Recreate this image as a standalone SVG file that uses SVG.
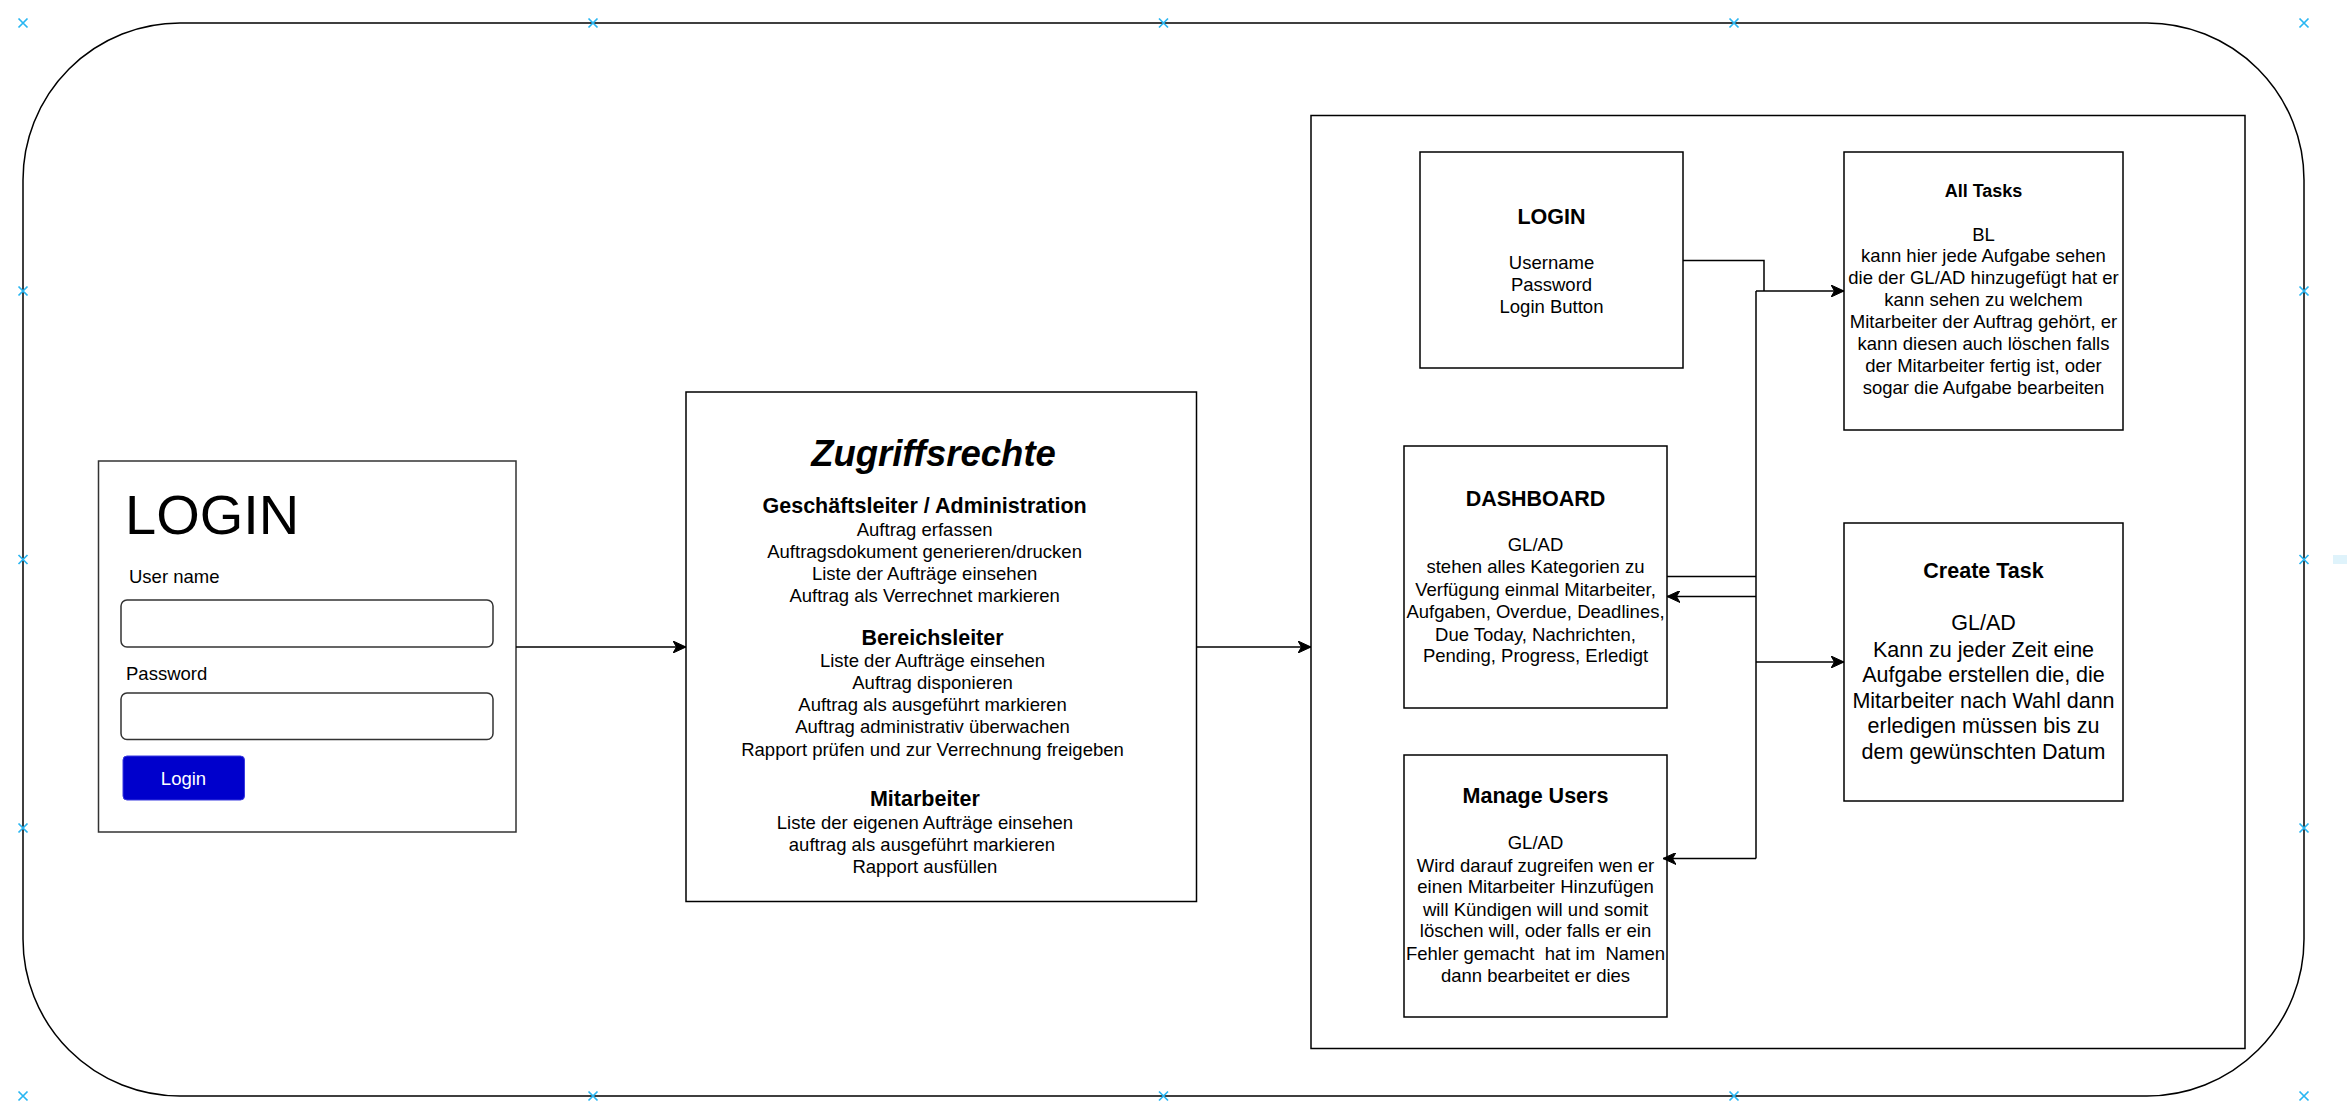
<svg xmlns="http://www.w3.org/2000/svg" width="2347" height="1113" viewBox="0 0 2347 1113">
<style>
.box{fill:#fff;stroke:#000;stroke-width:1.5}
.mk{fill:#fff;stroke:#333;stroke-width:1.5}
.t{font-family:"Liberation Sans",Arial,Helvetica,sans-serif;fill:#000}
.b{font-size:18.5px}
.h{font-size:21.5px;font-weight:bold}
.c{text-anchor:middle}
.conn{fill:none;stroke:#000;stroke-width:1.5}
.hdl{stroke:#29b6f2;stroke-width:1.7;fill:none}
</style>
<defs>
<marker id="arr" markerUnits="userSpaceOnUse" viewBox="0 0 13 12" refX="13" refY="6" markerWidth="13" markerHeight="12" orient="auto">
<path d="M0,0 L13,6 L0,12 L3.5,6 Z" fill="#000" stroke="#000" stroke-width="1"/>
</marker>
<path id="x" d="M-4.5,-4.5 L4.5,4.5 M-4.5,4.5 L4.5,-4.5"/>
</defs>
<rect width="2347" height="1113" fill="#fff"/>

<g id="frame">
<rect x="23" y="23" width="2281" height="1073" rx="157" ry="157" fill="none" stroke="#000" stroke-width="1.5"/>
</g>

<g id="container">
<rect class="box" x="1311" y="115.5" width="934" height="933"/>
</g>

<g id="login-mockup">
<rect class="mk" x="98.5" y="461" width="417.5" height="371"/>
<text class="t" x="125" y="534" font-size="56">LOGIN</text>
<text class="t b" x="129" y="583">User name</text>
<rect class="mk" x="121" y="600" width="372" height="47" rx="6"/>
<text class="t b" x="126" y="680">Password</text>
<rect class="mk" x="121" y="693" width="372" height="46.5" rx="6"/>
<rect x="123" y="756" width="121.5" height="44" rx="4" fill="#0000cc" stroke="#3a3ae0" stroke-width="1"/>
<text class="t b c" x="183.5" y="785" fill="#fff" style="fill:#fff">Login</text>
</g>

<g id="zugriffsrechte">
<rect class="box" x="686" y="392" width="510.5" height="509.5"/>
<text class="t c" x="933.5" y="466" font-size="36.5" font-weight="bold" font-style="italic">Zugriffsrechte</text>
<text class="t h c" x="924.6" y="513">Geschäftsleiter / Administration</text>
<text class="t b c" x="924.6" y="535.5">Auftrag erfassen</text>
<text class="t b c" x="924.6" y="557.5">Auftragsdokument generieren/drucken</text>
<text class="t b c" x="924.6" y="579.5">Liste der Aufträge einsehen</text>
<text class="t b c" x="924.6" y="601.5">Auftrag als Verrechnet markieren</text>
<text class="t h c" x="932.5" y="644.7">Bereichsleiter</text>
<text class="t b c" x="932.5" y="667.4">Liste der Aufträge einsehen</text>
<text class="t b c" x="932.5" y="689.3">Auftrag disponieren</text>
<text class="t b c" x="932.5" y="711.3">Auftrag als ausgeführt markieren</text>
<text class="t b c" x="932.5" y="733.3">Auftrag administrativ überwachen</text>
<text class="t b c" x="932.5" y="755.9">Rapport prüfen und zur Verrechnung freigeben</text>
<text class="t h c" x="924.9" y="806">Mitarbeiter</text>
<text class="t b c" x="924.9" y="828.6">Liste der eigenen Aufträge einsehen</text>
<text class="t b c" x="922" y="850.9">auftrag als ausgeführt markieren</text>
<text class="t b c" x="924.9" y="872.9">Rapport ausfüllen</text>
</g>

<g id="login">
<rect class="box" x="1420" y="152" width="263" height="216"/>
<text class="t h c" x="1551.5" y="224">LOGIN</text>
<text class="t b c" x="1551.5" y="269">Username</text>
<text class="t b c" x="1551.5" y="291">Password</text>
<text class="t b c" x="1551.5" y="313">Login Button</text>
</g>

<g id="all-tasks">
<rect class="box" x="1844" y="152" width="279" height="278"/>
<text class="t c" x="1983.5" y="196.7" font-size="18" font-weight="bold">All Tasks</text>
<text class="t b c" x="1983.5" y="240.7">BL</text>
<text class="t b c" x="1983.5" y="262.3">kann hier jede Aufgabe sehen</text>
<text class="t b c" x="1983.5" y="284.3">die der GL/AD hinzugefügt hat er</text>
<text class="t b c" x="1983.5" y="306">kann sehen zu welchem</text>
<text class="t b c" x="1983.5" y="328.3">Mitarbeiter der Auftrag gehört, er</text>
<text class="t b c" x="1983.5" y="350">kann diesen auch löschen falls</text>
<text class="t b c" x="1983.5" y="371.7">der Mitarbeiter fertig ist, oder</text>
<text class="t b c" x="1983.5" y="394">sogar die Aufgabe bearbeiten</text>
</g>

<g id="dashboard">
<rect class="box" x="1404" y="446" width="263" height="262"/>
<text class="t h c" x="1535.5" y="506">DASHBOARD</text>
<text class="t b c" x="1535.5" y="550.7">GL/AD</text>
<text class="t b c" x="1535.5" y="573.3">stehen alles Kategorien zu</text>
<text class="t b c" x="1535.5" y="595.7">Verfügung einmal Mitarbeiter,</text>
<text class="t b c" x="1535.5" y="618.3">Aufgaben, Overdue, Deadlines,</text>
<text class="t b c" x="1535.5" y="640.7">Due Today, Nachrichten,</text>
<text class="t b c" x="1535.5" y="662.3">Pending, Progress, Erledigt</text>
</g>

<g id="create-task">
<rect class="box" x="1844" y="523" width="279" height="278"/>
<text class="t h c" x="1983.5" y="578.3">Create Task</text>
<text class="t c" x="1983.5" y="630" font-size="21.5">GL/AD</text>
<text class="t c" x="1983.5" y="656.7" font-size="21.5">Kann zu jeder Zeit eine</text>
<text class="t c" x="1983.5" y="682.3" font-size="21.5">Aufgabe erstellen die, die</text>
<text class="t c" x="1983.5" y="708.3" font-size="21.5">Mitarbeiter nach Wahl dann</text>
<text class="t c" x="1983.5" y="733.3" font-size="21.5">erledigen müssen bis zu</text>
<text class="t c" x="1983.5" y="759.3" font-size="21.5">dem gewünschten Datum</text>
</g>

<g id="manage-users">
<rect class="box" x="1404" y="755" width="263" height="262"/>
<text class="t h c" x="1535.5" y="803.3">Manage Users</text>
<text class="t b c" x="1535.5" y="849.3">GL/AD</text>
<text class="t b c" x="1535.5" y="871.7">Wird darauf zugreifen wen er</text>
<text class="t b c" x="1535.5" y="893.3">einen Mitarbeiter Hinzufügen</text>
<text class="t b c" x="1535.5" y="915.7">will Kündigen will und somit</text>
<text class="t b c" x="1535.5" y="937.3">löschen will, oder falls er ein</text>
<text class="t b c" x="1535.5" y="960" xml:space="preserve">Fehler gemacht  hat im  Namen</text>
<text class="t b c" x="1535.5" y="982.3">dann bearbeitet er dies</text>
</g>

<g id="connectors">
<path class="conn" d="M516,647 H686" marker-end="url(#arr)"/>
<path class="conn" d="M1196.5,647 H1311" marker-end="url(#arr)"/>
<path class="conn" d="M1683,260.5 H1764 V291"/>
<path class="conn" d="M1756,291 H1844" marker-end="url(#arr)"/>
<path class="conn" d="M1756,291 V858.5"/>
<path class="conn" d="M1667,576.5 H1756"/>
<path class="conn" d="M1756,596.5 H1667" marker-end="url(#arr)"/>
<path class="conn" d="M1756,662 H1844" marker-end="url(#arr)"/>
<path class="conn" d="M1756,858.5 H1663" marker-end="url(#arr)"/>
</g>

<g id="handles" class="hdl">
<use href="#x" x="23" y="23"/><use href="#x" x="593" y="23"/><use href="#x" x="1163.5" y="23"/><use href="#x" x="1734" y="23"/><use href="#x" x="2304" y="23"/>
<use href="#x" x="23" y="1096"/><use href="#x" x="593" y="1096"/><use href="#x" x="1163.5" y="1096"/><use href="#x" x="1734" y="1096"/><use href="#x" x="2304" y="1096"/>
<use href="#x" x="23" y="291"/><use href="#x" x="23" y="559.5"/><use href="#x" x="23" y="828"/>
<use href="#x" x="2304" y="291"/><use href="#x" x="2304" y="559.5"/><use href="#x" x="2304" y="828"/>
<rect x="2333" y="555" width="14" height="9" fill="#dff3fb" stroke="none"/>
</g>
</svg>
